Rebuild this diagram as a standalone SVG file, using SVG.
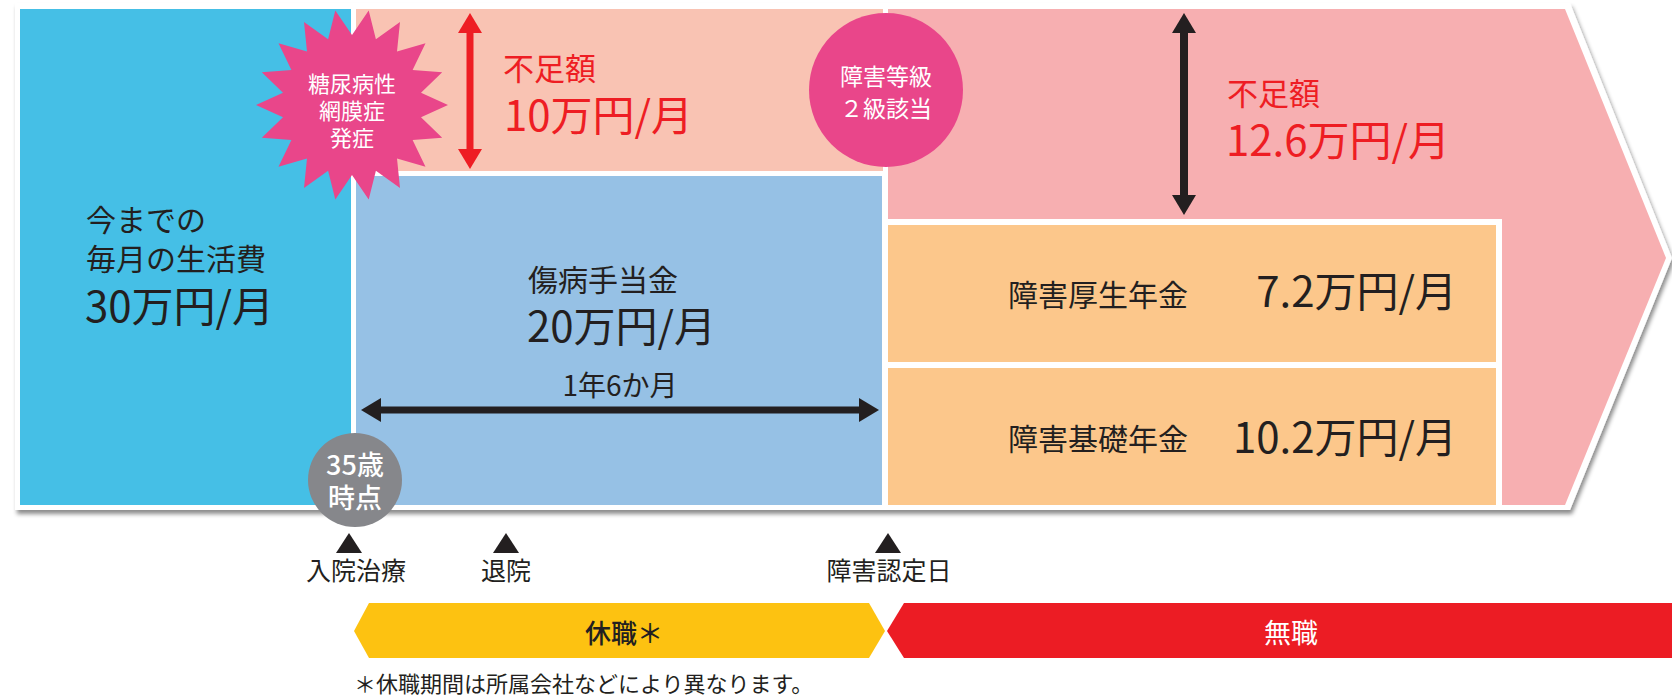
<svg xmlns="http://www.w3.org/2000/svg" width="1672" height="699" viewBox="0 0 1672 699">
<defs>
<style>
text{font-family:"Noto Sans CJK JP","Noto Sans",sans-serif;fill:#231f20}
.w{fill:#fff}
.r{fill:#ee1d23}
.c{text-anchor:middle}
.e{text-anchor:end}
.lbl{font-size:30px}
.amt{font-size:42px}
.tick{font-size:25px}
</style>
<filter id="sh" x="-5%" y="-5%" width="110%" height="115%">
<feDropShadow dx="2" dy="4" stdDeviation="2" flood-color="#000" flood-opacity="0.45"/>
</filter>
<marker id="ark" viewBox="0 0 20 24" refX="5" refY="12" markerWidth="20" markerHeight="24" markerUnits="userSpaceOnUse" orient="auto-start-reverse">
<path d="M0,0 L20,12 L0,24 z" fill="#231f20"/>
</marker>
<marker id="arr" viewBox="0 0 20 24" refX="5" refY="12" markerWidth="20" markerHeight="24" markerUnits="userSpaceOnUse" orient="auto-start-reverse">
<path d="M0,0 L20,12 L0,24 z" fill="#ee1d23"/>
</marker>
</defs>

<g id="frame">
<polygon points="15,3 1570,3 1672,258 1570,510 15,510" fill="#fff" filter="url(#sh)"/>
</g>

<g id="living-cost">
<rect x="20" y="9" width="331" height="496" fill="#45bfe6"/>
<text class="lbl" x="86" y="231">今までの</text>
<text class="lbl" x="86" y="270">毎月の生活費</text>
<text class="amt" x="85" y="322">30万円/月</text>
</g>

<g id="shortfall1">
<rect x="356" y="9" width="527" height="162" fill="#f9c3b3"/>
<text class="r" x="503" y="80" font-size="31">不足額</text>
<text class="r amt" x="504" y="131">10万円/月</text>
</g>

<g id="sickness-allowance">
<rect x="356" y="176" width="526" height="329" fill="#96c1e5"/>
<text class="lbl" x="528" y="291">傷病手当金</text>
<text class="amt" x="527" y="342">20万円/月</text>
<text class="c" x="620" y="396" font-size="28">1年6か月</text>
</g>

<g id="shortfall2">
<polygon points="888,9 1565,9 1666,258 1565,505 888,505" fill="#f7afb1"/>
<text class="r" x="1227" y="105" font-size="31">不足額</text>
<text class="r amt" x="1226" y="156">12.6万円/月</text>
</g>

<g id="pensions">
<rect x="883" y="219" width="619" height="291" fill="#fff"/>
<rect x="888" y="225" width="608" height="137" fill="#fcc78b"/>
<rect x="888" y="368" width="608" height="137" fill="#fcc78b"/>
<text class="lbl" x="1008" y="306">障害厚生年金</text>
<text class="amt e" x="1457" y="307">7.2万円/月</text>
<text class="lbl" x="1008" y="450">障害基礎年金</text>
<text class="amt e" x="1457" y="453">10.2万円/月</text>
</g>

<g id="onset">
<polygon fill="#e9468a" points="335.3,10.4 352,35 368.7,10.4 375.9,39.2 400,21.9 397,51.4 425.5,43.3 412.6,70 442.2,72.2 421,92.8 448,105 421,117.2 442.2,137.8 412.6,140 425.5,166.7 397,158.6 400,188.1 375.9,170.8 368.7,199.6 352,175 335.3,199.6 328.1,170.8 304,188.1 307,158.6 278.5,166.7 291.4,140 261.8,137.8 283,117.2 256,105 283,92.8 261.8,72.2 291.4,70 278.5,43.3 307,51.4 304,21.9 328.1,39.2"/>
<text class="w c" x="352" y="92" font-size="22">糖尿病性</text>
<text class="w c" x="352" y="119" font-size="22">網膜症</text>
<text class="w c" x="352" y="146" font-size="22">発症</text>
</g>

<g id="grade">
<circle cx="886" cy="90" r="77" fill="#e9468a"/>
<text class="w c" x="886" y="85" font-size="23">障害等級</text>
<text class="w c" x="886" y="117" font-size="23">２級該当</text>
</g>

<g id="age">
<circle cx="355" cy="480" r="47" fill="#86878b"/>
<text class="w c" x="355" y="475" font-size="27" font-weight="500">35歳</text>
<text class="w c" x="355" y="508" font-size="27" font-weight="500">時点</text>
</g>

<g id="connectors">
<line x1="470" y1="28" x2="470" y2="154" stroke="#ee1d23" stroke-width="7" marker-start="url(#arr)" marker-end="url(#arr)"/>
<line x1="1184" y1="28" x2="1184" y2="200" stroke="#231f20" stroke-width="8" marker-start="url(#ark)" marker-end="url(#ark)"/>
<line x1="376" y1="410" x2="864" y2="410" stroke="#231f20" stroke-width="7" marker-start="url(#ark)" marker-end="url(#ark)"/>
</g>

<g id="timeline">
<polygon points="349,533 336,553 362,553" fill="#231f20"/>
<text class="tick c" x="356" y="580">入院治療</text>
<polygon points="506,533 493,553 519,553" fill="#231f20"/>
<text class="tick c" x="506" y="580">退院</text>
<polygon points="888,533 875,553 901,553" fill="#231f20"/>
<text class="tick c" x="889" y="580">障害認定日</text>
</g>

<g id="leave">
<polygon points="354,631 369,603 869,603 885,631 869,658 369,658" fill="#fdc211"/>
<text class="c" x="624" y="643" font-size="26" font-weight="500">休職＊</text>
</g>

<g id="unemployed">
<polygon points="887,631 904,603 1672,603 1672,658 904,658" fill="#ec1c24"/>
<text class="w c" x="1291" y="643" font-size="27">無職</text>
</g>

<text x="354" y="692" font-size="22">＊休職期間は所属会社などにより異なります。</text>
</svg>
